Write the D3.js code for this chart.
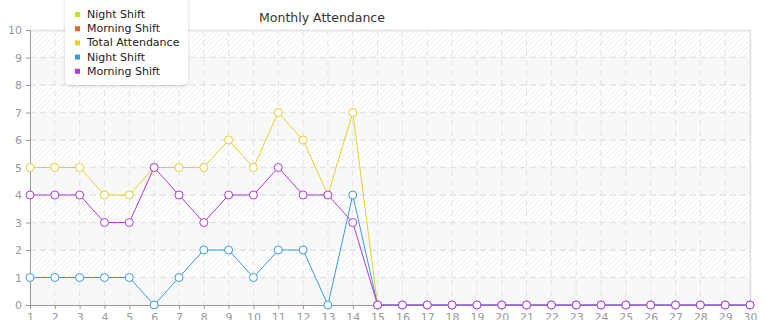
<!DOCTYPE html>
<html>
<head>
<meta charset="utf-8">
<script src="https://cdn.jsdelivr.net/npm/d3@7"></script>
<style>
body { margin: 0; background: #fff; }
svg { font-family: "DejaVu Sans", Verdana, sans-serif; }
</style>
</head>
<body>
<svg width="765" height="320"></svg>
<script>
"use strict";

var days = d3.range(1, 31);
var yTicks = d3.range(0, 11);
var seriesNames = ["Night Shift", "Morning Shift", "Total Attendance", "Night Shift", "Morning Shift"];
var seriesColors = ["#c2e02e", "#e0662e", "#e0d22e", "#3a9ae0", "#b03ae0"];

var greenNight = [];
var orangeMorning = [];
var totalAttendance = [5, 5, 5, 4, 4, 5, 5, 5, 6, 5, 7, 6, 4, 7, 0, 0, 0, 0, 0, 0, 0, 0, 0, 0, 0, 0, 0, 0, 0, 0];
var nightShift = [1, 1, 1, 1, 1, 0, 1, 2, 2, 1, 2, 2, 0, 4, 0, 0, 0, 0, 0, 0, 0, 0, 0, 0, 0, 0, 0, 0, 0, 0];
var morningShift = [4, 4, 4, 3, 3, 5, 4, 3, 4, 4, 5, 4, 4, 3, 0, 0, 0, 0, 0, 0, 0, 0, 0, 0, 0, 0, 0, 0, 0, 0];

var seriesData = [greenNight, orangeMorning, totalAttendance, nightShift, morningShift];

var svg = d3.select('svg');
var pLeft = 30, pRight = 750, pTop = 30, pBottom = 305;

var x = d3.scaleLinear().domain([1, 30]).range([pLeft, pRight]);
var y = d3.scaleLinear().domain([0, 10]).range([pBottom, pTop]);

var defs = svg.append('defs');
var pat = defs.append('pattern')
	.attr('id', 'hatch')
	.attr('patternUnits', 'userSpaceOnUse')
	.attr('width', 5).attr('height', 5);
pat.append('rect').attr('width', 5).attr('height', 5).attr('fill', '#fff');
pat.append('path')
	.attr('d', 'M-1,1 l2,-2 M0,5 l5,-5 M4,6 l2,-2')
	.attr('stroke', '#efefef').attr('stroke-width', 1);

var filt = defs.append('filter').attr('id', 'shadow').attr('x', '-20%').attr('y', '-20%').attr('width', '140%').attr('height', '140%');
filt.append('feDropShadow').attr('dx', 0).attr('dy', 1).attr('stdDeviation', 1.5).attr('flood-color', '#000').attr('flood-opacity', 0.18);

// background
svg.append('rect')
	.attr('x', pLeft).attr('y', pTop)
	.attr('width', pRight - pLeft).attr('height', pBottom - pTop)
	.attr('fill', 'url(#hatch)');

svg.selectAll('rect.band').data(d3.range(0, 10, 2)).enter().append('rect')
	.attr('class', 'band')
	.attr('x', pLeft).attr('width', pRight - pLeft)
	.attr('y', function(d) {return y(d + 1)})
	.attr('height', function(d) {return y(d) - y(d + 1)})
	.attr('fill', '#f8f8f8');

// grid
svg.selectAll('line.vgrid').data(days.slice(1)).enter().append('line')
	.attr('class', 'vgrid')
	.attr('x1', function(d) {return x(d)}).attr('x2', function(d) {return x(d)})
	.attr('y1', pTop).attr('y2', pBottom)
	.attr('stroke', '#e2e2e2').attr('stroke-dasharray', '6,4');

svg.selectAll('line.hgrid').data(yTicks.slice(1, 10)).enter().append('line')
	.attr('class', 'hgrid')
	.attr('x1', pLeft).attr('x2', pRight)
	.attr('y1', function(d) {return y(d)}).attr('y2', function(d) {return y(d)})
	.attr('stroke', '#e4e4e4').attr('stroke-width', 1.5).attr('stroke-dasharray', '6,4');

// frame top/right
svg.append('path')
	.attr('d', 'M' + pLeft + ',' + (pTop + 0.5) + 'H' + (pRight + 0.5) + 'V' + pBottom)
	.attr('fill', 'none').attr('stroke', '#e0e0e0').attr('stroke-width', 1.5);

// axes
var yAxis = svg.append('g')
	.attr('transform', 'translate(' + pLeft + ',0)')
	.call(d3.axisLeft(y).tickValues(yTicks).tickSize(4).tickPadding(4));
var xAxis = svg.append('g')
	.attr('transform', 'translate(0,' + pBottom + ')')
	.call(d3.axisBottom(x).tickValues(days).tickSize(4).tickPadding(4));

[yAxis, xAxis].forEach(function(a) {
	a.select('.domain').attr('stroke', '#999');
	a.selectAll('.tick line').attr('stroke', '#999');
	a.selectAll('.tick text').attr('fill', '#999').style('font-size', '11px')
		.style('font-family', '"DejaVu Sans", Verdana, sans-serif');
});

// lines
var line = d3.line()
	.x(function(d, i) {return x(days[i])})
	.y(function(d) {return y(d)});

seriesData.forEach(function(vals, s) {
	if (!vals.length) return;
	var g = svg.append('g');
	g.append('path')
		.attr('d', line(vals))
		.attr('fill', 'none')
		.attr('stroke', seriesColors[s]).attr('stroke-width', 1);
	g.selectAll('circle').data(vals).enter().append('circle')
		.attr('cx', function(d, i) {return x(days[i])})
		.attr('cy', function(d) {return y(d)})
		.attr('r', 4)
		.attr('fill', '#fff')
		.attr('stroke', seriesColors[s]).attr('stroke-width', 1);
});

// title
svg.append('text')
	.attr('x', 322).attr('y', 22)
	.attr('text-anchor', 'middle')
	.attr('fill', '#333')
	.style('font-size', '12.5px')
	.text('Monthly Attendance');

// legend
var lg = svg.append('g');
lg.append('rect')
	.attr('x', 65).attr('y', -10)
	.attr('width', 123).attr('height', 95)
	.attr('rx', 5)
	.attr('fill', '#fff')
	.attr('filter', 'url(#shadow)');

var items = lg.selectAll('g.item').data(seriesNames).enter().append('g')
	.attr('class', 'item')
	.attr('transform', function(d, i) {return 'translate(75,' + (18 + i * 14.2) + ')'});
items.append('rect')
	.attr('x', 0).attr('y', -6)
	.attr('width', 5).attr('height', 5)
	.attr('fill', function(d, i) {return seriesColors[i]});
items.append('text')
	.attr('x', 12).attr('y', 0)
	.attr('fill', '#222')
	.style('font-size', '11px')
	.text(function(d) {return d});
</script>
</body>
</html>
